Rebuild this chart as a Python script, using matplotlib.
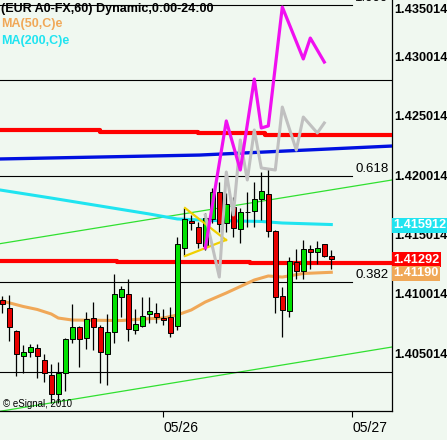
import matplotlib.pyplot as plt
from matplotlib import transforms
import numpy as np

plt.rcParams['font.family'] = ['Liberation Sans', 'DejaVu Sans']

# hourly candles (EUR A0-FX, 60 min)
opens = [1.40962, 1.40892, 1.40701, 1.40493, 1.40524, 1.40555, 1.40454, 1.40331, 1.40168, 1.40345,
         1.40636, 1.40732, 1.40640, 1.40808, 1.40737, 1.40505, 1.40690, 1.40985, 1.41013, 1.40707,
         1.40746, 1.40842, 1.40850, 1.40808, 1.40816, 1.40741, 1.41397, 1.41627, 1.41574, 1.41417,
         1.41642, 1.41869, 1.41608, 1.41743, 1.41557, 1.41701, 1.41709, 1.41810, 1.41852, 1.41541,
         1.40993, 1.40867, 1.41279, 1.41204, 1.41389, 1.41369, 1.41431, 1.41330]
highs = [1.40995, 1.41004, 1.40709, 1.40583, 1.40592, 1.40589, 1.40505, 1.40421, 1.40443, 1.40640,
         1.40928, 1.40746, 1.40864, 1.40943, 1.40752, 1.40844, 1.41181, 1.41080, 1.41136, 1.40884,
         1.40990, 1.40990, 1.40934, 1.40884, 1.40906, 1.41495, 1.41734, 1.41678, 1.41621, 1.41692,
         1.41903, 1.41958, 1.41863, 1.41825, 1.41734, 1.41874, 1.41958, 1.42042, 1.42063, 1.41551,
         1.41074, 1.41322, 1.41389, 1.41467, 1.41425, 1.41456, 1.41431, 1.41383]
lows = [1.40855, 1.40619, 1.40322, 1.40350, 1.40485, 1.40308, 1.40274, 1.40092, 1.40092, 1.40198,
        1.40603, 1.40400, 1.40547, 1.40541, 1.40266, 1.40246, 1.40597, 1.40821, 1.40619, 1.40673,
        1.40737, 1.40771, 1.40766, 1.40749, 1.40653, 1.40707, 1.41333, 1.41551, 1.41397, 1.41383,
        1.41608, 1.41537, 1.41537, 1.41488, 1.41444, 1.41579, 1.41579, 1.41636, 1.41495, 1.40850,
        1.40653, 1.40816, 1.41141, 1.41141, 1.41226, 1.41263, 1.41322, 1.41226]
closes = [1.40926, 1.40732, 1.40505, 1.40527, 1.40569, 1.40493, 1.40347, 1.40168, 1.40345, 1.40631,
          1.40732, 1.40631, 1.40800, 1.40737, 1.40527, 1.40690, 1.41013, 1.41052, 1.40715, 1.40757,
          1.40825, 1.40867, 1.40816, 1.40791, 1.40682, 1.41434, 1.41642, 1.41608, 1.41439, 1.41647,
          1.41869, 1.41602, 1.41768, 1.41564, 1.41703, 1.41699, 1.41810, 1.41880, 1.41541, 1.40985,
          1.40875, 1.41288, 1.41209, 1.41389, 1.41369, 1.41397, 1.41330, 1.41305]

ma50_idx = [0, 3, 5, 7, 8, 10, 17, 20, 23, 25, 27, 29, 32, 36, 38, 40, 43, 47]
ma50_val = [1.40953, 1.40907, 1.40882, 1.40844, 1.40810, 1.40793, 1.40789, 1.40802, 1.40810,
            1.40836, 1.40878, 1.40945, 1.41021, 1.41130, 1.41164, 1.41155, 1.41185, 1.41195]
ma200_idx = [-0.33, 7, 14, 21, 25, 30, 37, 40, 47]
ma200_val = [1.41888, 1.41820, 1.41753, 1.41686, 1.41644, 1.41631, 1.41623, 1.41610, 1.41597]

red_hi_idx = [-0.33, 14, 28, 37.5, 55.67]
red_hi_val = [1.42397, 1.42380, 1.42365, 1.42347, 1.42347]
red_lo_idx = [-0.33, 16.4, 35.4, 55.67]
red_lo_val = [1.41292, 1.41279, 1.41273, 1.41273]
blue_idx = [-0.33, 28.2, 55.67]
blue_val = [1.42149, 1.42182, 1.42258]

magenta_idx = [29, 32, 34, 36, 37, 38, 40, 43, 44, 46]
magenta_val = [1.41400, 1.42469, 1.42056, 1.42822, 1.42410, 1.42427, 1.43428, 1.42991, 1.43167, 1.42965]
gray_idx = [29, 31, 32, 33, 34, 35, 36, 37, 39, 40, 42, 43, 45, 46]
gray_val = [1.41677, 1.41155, 1.42039, 1.41677, 1.42309, 1.41972, 1.42393, 1.42073, 1.42056,
            1.42586, 1.42224, 1.42502, 1.42368, 1.42452]

yellow_upper = ([26.1, 31.96], [1.41736, 1.41467])
yellow_lower = ([26.1, 31.96], [1.41332, 1.41467])
trend_low = ([-0.33, 55.67], [1.40025, 1.40566])
trend_high = ([-0.33, 55.67], [1.41436, 1.41972])

fib_levels = [1.43445, 1.42006, 1.41113]
fib_labels = ['1.000', '0.618', '0.382']
other_levels = [1.42814, 1.40356]

price_ticks = [1.435014, 1.430014, 1.425014, 1.420014, 1.415014, 1.410014, 1.405014]
date_idx = [23, 50]
date_labels = ['05/26', '05/27']

W, H = 447, 440
bg = '#f0f8f0'
fig = plt.figure(figsize=(W / 100, H / 100), dpi=100)
fig.patch.set_facecolor(bg)
ax = fig.add_axes([0, 29 / H, 392 / W, 411 / H])
ax.set_facecolor(bg)
ax.set_xlim(-2.3 / 7, (392 - 2.3) / 7)
ax.set_ylim(1.400274, 1.434872)

for s in ['left', 'top']:
    ax.spines[s].set_visible(False)
for s in ['right', 'bottom']:
    ax.spines[s].set_color('black')
    ax.spines[s].set_linewidth(0.9)

# background lines
ax.plot(*trend_low, color='#30e030', lw=0.9, zorder=2)
ax.plot(*trend_high, color='#30e030', lw=0.9, zorder=2)
for lv in fib_levels:
    ax.axhline(lv, xmin=0, xmax=352 / 392, color='black', lw=0.8, zorder=2)
for lv in other_levels:
    ax.axhline(lv, color='black', lw=0.8, zorder=2)

blend = transforms.blended_transform_factory(ax.transAxes, ax.transData)
for lv, lab in zip(fib_levels, fib_labels):
    ax.annotate(lab, (355 / 392, lv), xycoords=blend, xytext=(0, 3), textcoords='offset points',
                va='baseline', ha='left', fontsize=9.5, color='black', annotation_clip=False)

ax.plot(ma200_idx, ma200_val, color='#20e4f0', lw=2.2, zorder=3)
ax.plot(ma50_idx, ma50_val, color='#f0a858', lw=2.2, zorder=3)
ax.step(red_hi_idx, red_hi_val, where='post', color='#ff0000', lw=3, zorder=3)
ax.step(red_lo_idx, red_lo_val, where='post', color='#ff0000', lw=3, zorder=3)
ax.plot(blue_idx, blue_val, color='#0010e0', lw=2.4, zorder=3)

# candles
o = np.array(opens); c = np.array(closes)
x = np.arange(len(o))
up = c >= o
ax.vlines(x, lows, highs, color='black', lw=0.9, zorder=4)
ax.bar(x, np.abs(c - o) + 0.00001, bottom=np.minimum(o, c), width=0.72,
       color=np.where(up, '#00e000', '#e80000'), edgecolor='black', linewidth=0.7, zorder=5)

ax.plot(*yellow_upper, color='#f0d000', lw=1.6, zorder=6)
ax.plot(*yellow_lower, color='#f0d000', lw=1.6, zorder=6)
ax.plot(gray_idx, gray_val, color='#c0c0c0', lw=2.2, zorder=6)
ax.plot(magenta_idx, magenta_val, color='#f010f0', lw=2.3, zorder=7)

# axes ticks and labels
ax.set_yticks([])
ax.set_xticks(date_idx)
ax.set_xticklabels(date_labels, ha='left', fontsize=10)
ax.tick_params(axis='x', direction='out', length=4, width=0.8, pad=3, colors='black')

for p in price_ticks:
    yy = min(p, 1.43405)
    ax.text(1.005, yy, '%.6f' % p, transform=blend, ha='left', va='center',
            fontsize=9.2, fontweight='bold', color='black', clip_on=False)

def value_box(val, txt, color):
    ax.text(1.003, val, txt, transform=blend, ha='left', va='center', fontsize=9.2,
            fontweight='bold', color='white', clip_on=False, zorder=10,
            bbox=dict(boxstyle='square,pad=0.12', fc=color, ec='none'))

value_box(1.415912, '1.415912', '#20e4f0')
value_box(1.41302, '1.41292', '#ff0000')
value_box(1.41185, '1.41190', '#f0a858')

fig.text(1 / W, 1 - 9 / H, '(EUR A0-FX,60) Dynamic,0:00-24:00', fontsize=9, fontweight='bold',
         color='black', va='center', ha='left')
fig.text(1 / W, 1 - 24 / H, 'MA(50,C)e', fontsize=9, fontweight='bold', color='#f0a858',
         va='center', ha='left')
fig.text(1 / W, 1 - 41 / H, 'MA(200,C)e', fontsize=9, fontweight='bold', color='#20e4f0',
         va='center', ha='left')
fig.text(3 / W, 1 - 404 / H, '\u00a9 eSignal, 2010', fontsize=7, color='black', va='center', ha='left')

fig.savefig('out.png', dpi=100, facecolor=bg)
